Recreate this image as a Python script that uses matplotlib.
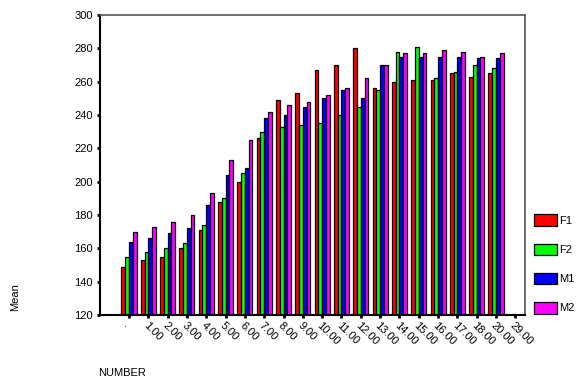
import matplotlib
matplotlib.use("Agg")
import matplotlib.pyplot as plt
import numpy as np

plt.rcParams["font.family"] = ["Liberation Sans", "DejaVu Sans"]

categories = [".", "1.00", "2.00", "3.00", "4.00", "5.00", "6.00", "7.00", "8.00", "9.00",
              "10.00", "11.00", "12.00", "13.00", "14.00", "15.00", "16.00", "17.00", "18.00",
              "20.00", "29.00"]
f1 = [149, 153, 155, 160, 171, 188, 200, 226, 249, 253, 267, 270, 280, 256, 260, 261, 261, 265, 263, 265, np.nan]
f2 = [155, 158, 160, 163, 174, 190, 205, 230, 233, 234, 235, 240, 245, 255, 278, 281, 262, 266, 270, 268, np.nan]
m1 = [164, 166, 169, 172, 186, 204, 208, 238, 240, 245, 250, 255, 250, 270, 275, 275, 275, 275, 274, 274, np.nan]
m2 = [170, 173, 176, 180, 193, 213, 225, 242, 246, 248, 252, 256, 262, 270, 277, 277, 279, 278, 275, 277, np.nan]
series = {"F1": f1, "F2": f2, "M1": m1, "M2": m2}
colors = ["#ff0000", "#00ff00", "#0000ff", "#ff00ff"]

fig = plt.figure(figsize=(5.76, 3.79), dpi=100)
ax = fig.add_axes([100 / 576, 64 / 379, 425 / 576, 300 / 379])

x = np.arange(len(categories))
width = 0.195
bottom = 120
for i, (name, vals) in enumerate(series.items()):
    vals = np.array(vals, dtype=float)
    ax.bar(x + (i - 1.5) * width, vals - bottom, width, bottom=bottom, color=colors[i],
           edgecolor="black", linewidth=0.9, label=name)

ax.set_xlim(-1.5, len(categories) - 0.5)
ax.set_ylim(120, 300)
ax.set_yticks(range(120, 301, 20))
ax.set_xticks(x)
ax.set_xticklabels(categories, rotation=-45, ha="left", rotation_mode="anchor", fontsize=8)
ax.tick_params(axis="y", labelsize=8, length=2, width=2, direction="out", pad=3)
ax.tick_params(axis="x", length=2, width=2, direction="out", pad=2)

for side in ["left", "bottom"]:
    ax.spines[side].set_color("black")
    ax.spines[side].set_linewidth(1.5)
for side in ["top", "right"]:
    ax.spines[side].set_color("#555555")
    ax.spines[side].set_linewidth(1.2)

fig.text(15 / 576, 1 - 297 / 379, "Mean", rotation=90, ha="center", va="center", fontsize=8)
fig.text(98 / 576, 1 - 373 / 379, "NUMBER", ha="left", va="center", fontsize=8)

handles, labels = ax.get_legend_handles_labels()
fig.legend(handles, labels, loc="center left", bbox_to_anchor=(534 / 576, 1 - 264 / 379),
           frameon=False, fontsize=8, borderpad=0, borderaxespad=0,
           handlelength=2.1, handleheight=1.26, handletextpad=0.15, labelspacing=1.56)

fig.savefig("out.png", dpi=100)
